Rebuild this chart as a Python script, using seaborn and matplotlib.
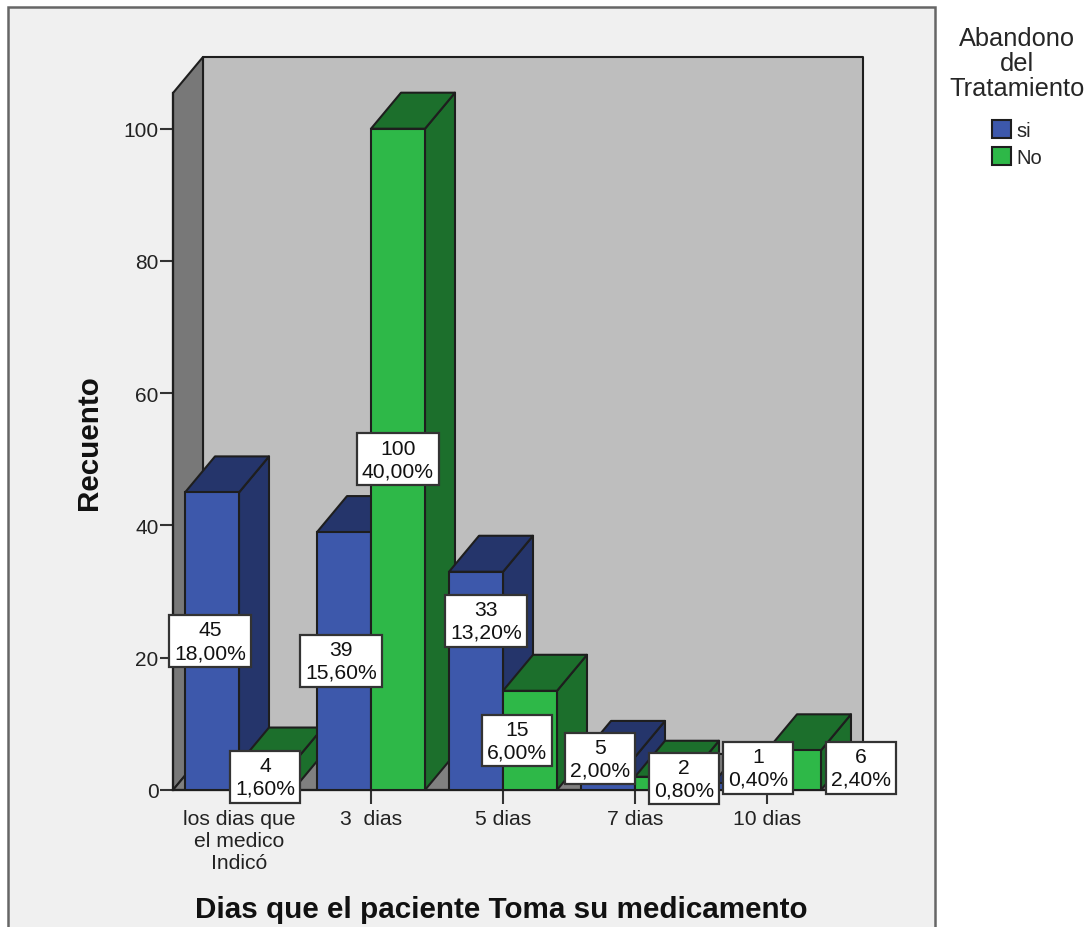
import matplotlib
matplotlib.use("Agg")
import matplotlib.pyplot as plt
from matplotlib.patches import Polygon, Rectangle
import pandas as pd
import seaborn as sns

# Treatment adherence counts by number of days the medication was taken
categories = ["los dias que\nel medico\nIndicó", "3  dias", "5 dias", "7 dias", "10 dias"]
abandono_si = [45, 39, 33, 5, 1]
abandono_no = [4, 100, 15, 2, 6]
series_names = ["si", "No"]
y_ticks = [0, 20, 40, 60, 80, 100]

BLUE, GREEN = "#3D58AB", "#2EB848"
BLUE_DARK, GREEN_DARK = "#25356B", "#1C6F2C"
EDGE = "#1E1E1E"

sns.set_theme(style="ticks", rc={"axes.linewidth": 1.6, "axes.edgecolor": EDGE})
plt.rcParams["font.family"] = ["Liberation Sans", "DejaVu Sans"]

df = pd.DataFrame({
    "dias": categories * 2,
    "recuento": abandono_si + abandono_no,
    "abandono": [series_names[0]] * 5 + [series_names[1]] * 5,
})

W, H = 1088, 928
fig = plt.figure(figsize=(W / 100, H / 100), dpi=100, facecolor="white")

# Outer panel runs off the bottom of the figure
fig.add_artist(Rectangle((8 / W, -0.02), 927 / W, 1 - 8 / H + 0.02, transform=fig.transFigure,
                         facecolor="#F0F0F0", edgecolor="#666666", linewidth=1.8, zorder=-1))

ax = fig.add_axes([173 / W, 1 - 791 / H, 660 / W, 697 / H])
ax.patch.set_visible(False)

sns.barplot(data=df, x="dias", y="recuento", hue="abandono", order=categories,
            hue_order=series_names, palette=[BLUE, GREEN], width=0.818, gap=0,
            saturation=1, edgecolor=EDGE, linewidth=1.5, ax=ax)
ax.set_xlim(-0.5, 4.5)
ax.set_ylim(0, 105.4)
ax.set_yticks(y_ticks)

# Oblique depth of the 3D projection, in data units
DX, DY = 30 / 132, 36 / 6.61
xmin, xmax = ax.get_xlim()
ymax = ax.get_ylim()[1]


def face(points, color, z):
    ax.add_patch(Polygon(points, closed=True, facecolor=color, edgecolor=EDGE,
                         linewidth=1.5, zorder=z, clip_on=False, joinstyle="round"))


# Chart walls and floor
face([(xmin + DX, DY), (xmax + DX, DY), (xmax + DX, ymax + DY), (xmin + DX, ymax + DY)], "#BEBEBE", 1.0)
face([(xmin, 0), (xmin + DX, DY), (xmin + DX, ymax + DY), (xmin, ymax)], "#787878", 1.1)
face([(xmin, 0), (xmax, 0), (xmax + DX, DY), (xmin + DX, DY)], "#808080", 1.2)

# Bars are stacked from left to right so that nearer faces hide the farther ones
shades = [BLUE_DARK, GREEN_DARK]
bars = []
for s, container in enumerate(ax.containers):
    for g, bar in enumerate(container):
        bars.append((g, s, bar))
for g, s, bar in sorted(bars, key=lambda b: (b[0], b[1])):
    z = 3 + g + s * 0.3
    x0, x1, h = bar.get_x(), bar.get_x() + bar.get_width(), bar.get_height()
    face([(x1, 0), (x1 + DX, DY), (x1 + DX, h + DY), (x1, h)], shades[s], z)
    face([(x0, h), (x0 + DX, h + DY), (x1 + DX, h + DY), (x1, h)], shades[s], z + 0.01)
    bar.set_zorder(z + 0.02)

# Value labels; the crowded ones are nudged away from their bars (pixels)
nudges = {(0, 0): (-2, 0), (1, 0): (-3, 0), (2, 0): (10, 60), (3, 0): (-8, 15), (4, 0): (18, 19),
          (0, 1): (-1, 0), (1, 1): (0, 0), (2, 1): (-13, 0), (3, 1): (22, 5), (4, 1): (67, 2)}
total = sum(abandono_si) + sum(abandono_no)
for g, s, bar in bars:
    h = bar.get_height()
    share = f"{100 * h / total:.2f}".replace(".", ",")
    ax.annotate(f"{h:.0f}\n{share}%",
                xy=(bar.get_x() + bar.get_width() / 2, h / 2), xycoords="data",
                xytext=nudges[(g, s)], textcoords="offset pixels",
                ha="center", va="center", ma="center", fontsize=15.2, linespacing=1.24,
                color="#111111", zorder=20, annotation_clip=False,
                bbox=dict(boxstyle="square,pad=0.24", facecolor="white", edgecolor="#333333", linewidth=1.6))

# Axes dressing
ax.tick_params(axis="y", length=9.5, width=1.5, pad=1, labelsize=15, color="#333333", labelcolor="#222222")
ax.tick_params(axis="x", length=10, width=1.5, pad=4, labelsize=15.2, color="#333333", labelcolor="#222222")
for side in ("top", "right"):
    ax.spines[side].set_visible(False)
ax.spines["left"].set_zorder(1.3)
ax.spines["bottom"].set_zorder(1.3)

ax.set_xlabel("Dias que el paciente Toma su medicamento", fontsize=21.3, fontweight="bold", color="#111111", va="baseline")
ax.xaxis.set_label_coords(0.497, -127 / 697)
ax.set_ylabel("Recuento", fontsize=21.3, fontweight="bold", color="#111111", va="center")
ax.yaxis.set_label_coords(-84 / 660, 0.5)

sns.move_legend(ax, loc="upper center", bbox_to_anchor=(1017 / W, 1 - 17 / H),
                bbox_transform=fig.transFigure, frameon=False, title="Abandono\ndel\nTratamiento",
                fontsize=14.5, title_fontsize=18.3, handlelength=0.95, handleheight=1.05,
                handletextpad=0.3, labelspacing=0.33, borderpad=0)
legend = ax.get_legend()
legend.set_zorder(30)
legend._legend_box.align = "center"
legend._legend_box.sep = 14
legend.get_title().set_linespacing(1.06)
legend.get_title().set_multialignment("center")

fig.savefig("out.png", dpi=100)
